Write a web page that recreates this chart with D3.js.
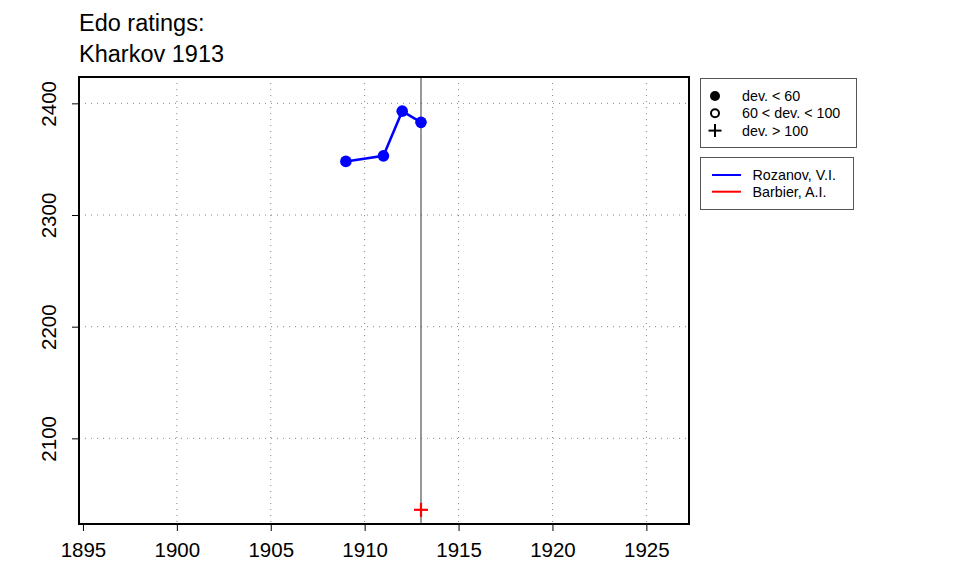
<!DOCTYPE html>
<html><head><meta charset="utf-8">
<script src="https://cdn.jsdelivr.net/npm/d3@7"></script>
<style>body{margin:0;background:#fff}svg{display:block}text{font-family:"Liberation Sans",Arial,sans-serif}</style>
</head><body>
<svg id="c" width="960" height="576"></svg>
<script>
const titleLines = ["Edo ratings:", "Kharkov 1913"];
const xTicks = [1895, 1900, 1905, 1910, 1915, 1920, 1925];
const yTicks = [2100, 2200, 2300, 2400];
const rozYears = [1909, 1911, 1912, 1913];
const rozRatings = [2348, 2353, 2393, 2383];
const barYears = [1913];
const barRatings = [2036];
const eventYear = 1913;
const devLegend = ["dev. < 60", "60 < dev. < 100", "dev. > 100"];
const players = ["Rozanov, V.I.", "Barbier, A.I."];
const playerColors = ["#0000ff", "#ff0000"];

const svg = d3.select("#c");
const L = 79, R = 689, T = 77, B = 524;
const x = d3.scaleLinear().domain([1894.79, 1927.27]).range([L, R]);
const y = d3.scaleLinear().domain([2023.3, 2423.6]).range([B, T]);

// title
svg.selectAll("text.title").data(titleLines).join("text")
  .attr("x", 79).attr("y", (d, i) => 31 + i * 31)
  .attr("font-size", 23.5).text(d => d);

// grid
svg.append("g").selectAll("line").data(xTicks.slice(1)).join("line")
  .attr("x1", d => x(d)).attr("x2", d => x(d)).attr("y1", T).attr("y2", B)
  .attr("stroke", "#888").attr("stroke-dasharray", "1,5").attr("stroke-width", 1);
svg.append("g").selectAll("line").data(yTicks).join("line")
  .attr("y1", d => y(d)).attr("y2", d => y(d)).attr("x1", L).attr("x2", R)
  .attr("stroke", "#888").attr("stroke-dasharray", "1,5").attr("stroke-width", 1);

// event line
svg.append("line").attr("x1", x(eventYear)).attr("x2", x(eventYear)).attr("y1", T).attr("y2", B)
  .attr("stroke", "#333").attr("stroke-width", 1);

// axes
const xAxis = d3.axisBottom(x).tickValues(xTicks).tickFormat(d3.format("d")).tickSize(7).tickPadding(11);
const gx = svg.append("g").attr("transform", `translate(0,${B})`).call(xAxis);
gx.select(".domain").remove();
gx.selectAll("text").attr("font-size", 20.5).attr("fill", "#000").attr("font-family", "Liberation Sans, Arial, sans-serif");
gx.selectAll("line").attr("stroke", "#000");

const yAxis = d3.axisLeft(y).tickValues(yTicks).tickFormat(d3.format("d")).tickSize(7);
const gy = svg.append("g").attr("transform", `translate(${L},0)`).call(yAxis);
gy.select(".domain").remove();
gy.selectAll("line").attr("stroke", "#000");
gy.selectAll("text").attr("font-size", 20.5).attr("fill", "#000").attr("font-family", "Liberation Sans, Arial, sans-serif")
  .attr("text-anchor", "middle").attr("dy", null).attr("x", null)
  .attr("transform", "translate(-23,0) rotate(-90)");

// data line + points
const line = d3.line().x(d => x(d[0])).y(d => y(d[1]));
const roz = rozYears.map((d, i) => [d, rozRatings[i]]);
svg.append("path").datum(roz).attr("d", line).attr("fill", "none")
  .attr("stroke", playerColors[0]).attr("stroke-width", 2.5);
svg.append("g").selectAll("circle").data(roz).join("circle")
  .attr("cx", d => x(d[0])).attr("cy", d => y(d[1])).attr("r", 5.8).attr("fill", playerColors[0]);

const bar = barYears.map((d, i) => [d, barRatings[i]]);
const pg = svg.append("g").selectAll("g").data(bar).join("g")
  .attr("transform", d => `translate(${x(d[0])},${y(d[1])})`);
pg.append("line").attr("x1", -7).attr("x2", 7).attr("stroke", playerColors[1]).attr("stroke-width", 2.2);
pg.append("line").attr("y1", -7).attr("y2", 7).attr("stroke", playerColors[1]).attr("stroke-width", 2.2);

// box
svg.append("rect").attr("x", L).attr("y", T).attr("width", R - L).attr("height", B - T)
  .attr("fill", "none").attr("stroke", "#000").attr("stroke-width", 2);

// legend 1
svg.append("rect").attr("x", 700.5).attr("y", 78.5).attr("width", 156).attr("height", 69)
  .attr("fill", "#fff").attr("stroke", "#555").attr("stroke-width", 1);
const l1 = svg.append("g").selectAll("g").data(devLegend).join("g")
  .attr("transform", (d, i) => `translate(0,${96 + i * 17.3})`);
l1.append("text").attr("x", 742).attr("y", 5).attr("font-size", 14.3).text(d => d);
l1.filter((d, i) => i === 0).append("circle").attr("cx", 715).attr("r", 5).attr("fill", "#000");
l1.filter((d, i) => i === 1).append("circle").attr("cx", 715).attr("r", 4).attr("fill", "none").attr("stroke", "#000").attr("stroke-width", 2);
const plus = l1.filter((d, i) => i === 2);
plus.append("line").attr("x1", 708.5).attr("x2", 721.5).attr("stroke", "#000").attr("stroke-width", 2);
plus.append("line").attr("x1", 715).attr("x2", 715).attr("y1", -6.5).attr("y2", 6.5).attr("stroke", "#000").attr("stroke-width", 2);

// legend 2
svg.append("rect").attr("x", 700.5).attr("y", 157.5).attr("width", 153).attr("height", 52)
  .attr("fill", "#fff").attr("stroke", "#555").attr("stroke-width", 1);
const l2 = svg.append("g").selectAll("g").data(players).join("g")
  .attr("transform", (d, i) => `translate(0,${175 + i * 16.7})`);
l2.append("line").attr("x1", 712).attr("x2", 741).attr("stroke", (d, i) => playerColors[i]).attr("stroke-width", 2);
l2.append("text").attr("x", 752.5).attr("y", 5).attr("font-size", 14.3).text(d => d);
</script>
</body></html>
